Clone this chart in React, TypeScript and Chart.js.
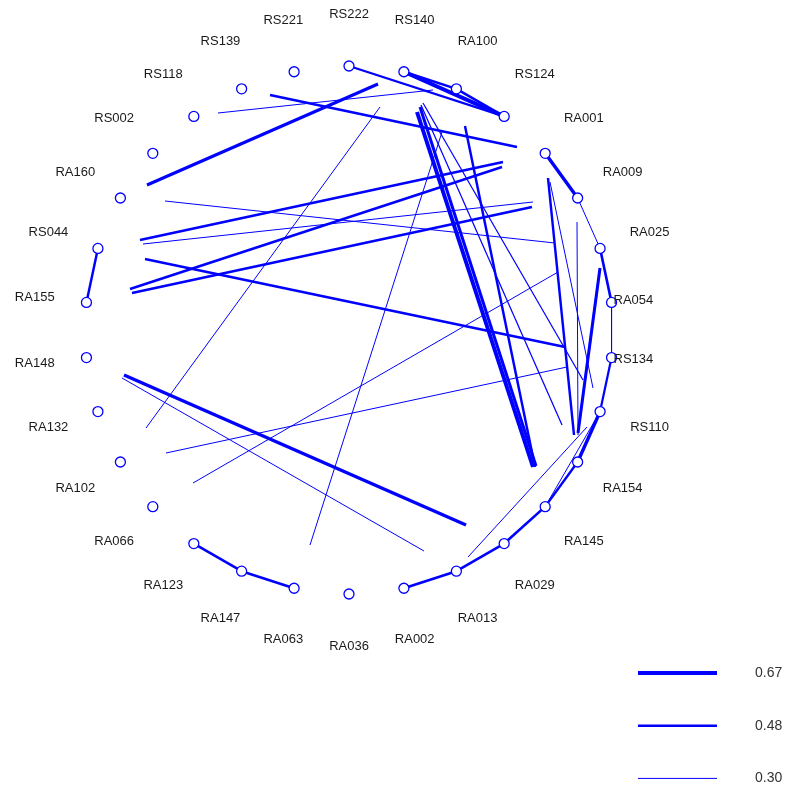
import { useEffect, useRef } from "react";
import { Chart, registerables } from "chart.js";

Chart.register(...registerables);

// Canvas size; the scales map 1 unit to 1 pixel.
const W = 792;
const H = 791;

// Node names, clockwise from the top of the circle.
const nodeNames = [
  "RS222", "RS140", "RA100", "RS124", "RA001", "RA009", "RA025", "RA054",
  "RS134", "RS110", "RA154", "RA145", "RA029", "RA013", "RA002", "RA036",
  "RA063", "RA147", "RA123", "RA066", "RA102", "RA132", "RA148", "RA155",
  "RS044", "RA160", "RS002", "RS118", "RS139", "RS221",
];

// Edges between neighbouring nodes: [from, to, weight]
const nodeEdges: [string, string, number][] = [
  ["RS222", "RS124", 0.45],
  ["RS140", "RS124", 0.67],
  ["RS140", "RA100", 0.48],
  ["RA100", "RS124", 0.48],
  ["RA001", "RA009", 0.6],
  ["RA009", "RA025", 0.3],
  ["RA025", "RA054", 0.5],
  ["RA054", "RS134", 0.3],
  ["RS134", "RS110", 0.45],
  ["RS110", "RA154", 0.6],
  ["RS110", "RA145", 0.3],
  ["RA154", "RA145", 0.48],
  ["RA145", "RA029", 0.5],
  ["RA029", "RA013", 0.5],
  ["RA013", "RA002", 0.5],
  ["RS044", "RA155", 0.48],
  ["RA123", "RA147", 0.5],
  ["RA147", "RA063", 0.5],
];

// Chords across the circle: [x1, y1, x2, y2, weight]
const chords: [number, number, number, number, number][] = [
  [147, 185, 378, 84, 0.55],
  [270, 95, 517, 147, 0.48],
  [218, 113, 433, 90, 0.3],
  [380, 107, 146, 428, 0.3],
  [165, 201, 555, 243, 0.3],
  [140, 240, 503, 162, 0.5],
  [143, 244, 533, 202, 0.3],
  [145, 259, 565, 347, 0.5],
  [130, 289, 502, 167, 0.5],
  [132, 293, 532, 207, 0.5],
  [124, 375, 466, 525, 0.6],
  [122, 378, 424, 551, 0.3],
  [166, 453, 567, 367, 0.3],
  [193, 483, 558, 272, 0.3],
  [310, 545, 442, 132, 0.3],
  [417, 112, 533, 467, 0.67],
  [420, 107, 536, 466, 0.55],
  [465, 126, 535, 467, 0.48],
  [421, 105, 562, 425, 0.33],
  [423, 103, 583, 380, 0.33],
  [548, 178, 574, 435, 0.48],
  [550, 182, 593, 388, 0.3],
  [577, 222, 578, 435, 0.3],
  [600, 268, 578, 433, 0.55],
  [587, 427, 468, 557, 0.3],
];

// Edge width legend
const legendWeights = [0.67, 0.48, 0.3];
const legendLabels = ["0.67", "0.48", "0.30"];

const BLUE = "#0000ff";
const CX = 349;
const CY = 330;
const RADIUS = 264;
const LABEL_RADIUS = 316;
const LABEL_RADIUS_SIDE = 286;
const LEGEND_X0 = 638;
const LEGEND_X1 = 717;
const LEGEND_TEXT_X = 755;
const LEGEND_Y0 = 673;
const LEGEND_STEP = 52.7;

const widthFor = (w: number) => 1 + ((w - 0.3) / 0.37) * 3;

function nodePos(i: number, r: number) {
  const a = ((90 - i * 12) * Math.PI) / 180;
  return { x: CX + r * Math.cos(a), y: CY - r * Math.sin(a) };
}

const nodeIndex = (name: string) => nodeNames.indexOf(name);

export default function App() {
  const ref = useRef<HTMLCanvasElement | null>(null);

  useEffect(() => {
    if (!ref.current) return;

    const line = (data: { x: number; y: number }[], w: number) => ({
      data,
      showLine: true,
      borderColor: BLUE,
      borderWidth: widthFor(w),
      borderCapStyle: "butt",
      pointRadius: 0,
      order: 2,
    });

    const edgeSets: any[] = [];
    nodeEdges.forEach(([a, b, w]) => {
      edgeSets.push(line([nodePos(nodeIndex(a), RADIUS), nodePos(nodeIndex(b), RADIUS)], w));
    });
    chords.forEach(([x1, y1, x2, y2, w]) => {
      edgeSets.push(line([{ x: x1, y: y1 }, { x: x2, y: y2 }], w));
    });
    legendWeights.forEach((w, i) => {
      const y = LEGEND_Y0 + i * LEGEND_STEP;
      edgeSets.push(line([{ x: LEGEND_X0, y }, { x: LEGEND_X1, y }], w));
    });

    const nodeSet = {
      data: nodeNames.map((_, i) => nodePos(i, RADIUS)),
      showLine: false,
      pointRadius: 5,
      pointBackgroundColor: "#ffffff",
      pointBorderColor: BLUE,
      pointBorderWidth: 1.3,
      order: 0,
    };

    const textPlugin = {
      id: "nodeLabels",
      afterDatasetsDraw(chart: any) {
        const { ctx, scales } = chart;
        const sx = scales.x;
        const sy = scales.y;
        ctx.save();
        ctx.font = '13px "Liberation Sans", Arial, sans-serif';
        ctx.fillStyle = "#1a1a1a";
        ctx.textAlign = "center";
        ctx.textBaseline = "middle";
        nodeNames.forEach((name, i) => {
          const r = name === "RA054" || name === "RS134" ? LABEL_RADIUS_SIDE : LABEL_RADIUS;
          const p = nodePos(i, r);
          ctx.fillText(name, sx.getPixelForValue(p.x), sy.getPixelForValue(p.y));
        });
        ctx.font = '14px "Liberation Sans", Arial, sans-serif';
        ctx.fillStyle = "#333333";
        ctx.textAlign = "left";
        legendLabels.forEach((lab, i) => {
          const y = LEGEND_Y0 + i * LEGEND_STEP;
          ctx.fillText(lab, sx.getPixelForValue(LEGEND_TEXT_X), sy.getPixelForValue(y));
        });
        ctx.restore();
      },
    };

    const chart = new Chart(ref.current, {
      type: "scatter",
      data: { datasets: [...edgeSets, nodeSet] },
      options: {
        animation: false,
        responsive: false,
        layout: { padding: 0, autoPadding: false },
        plugins: {
          legend: { display: false },
          tooltip: { enabled: false },
        },
        scales: {
          x: { type: "linear", min: 0, max: W, display: false },
          y: { type: "linear", min: 0, max: H, reverse: true, display: false },
        },
      },
      plugins: [textPlugin],
    });

    return () => chart.destroy();
  }, []);

  return (
    <div style={{ position: "absolute", left: 0, top: 0, width: W, height: H, background: "#fff" }}>
      <canvas ref={ref} width={W} height={H} style={{ width: W, height: H }} />
    </div>
  );
}
